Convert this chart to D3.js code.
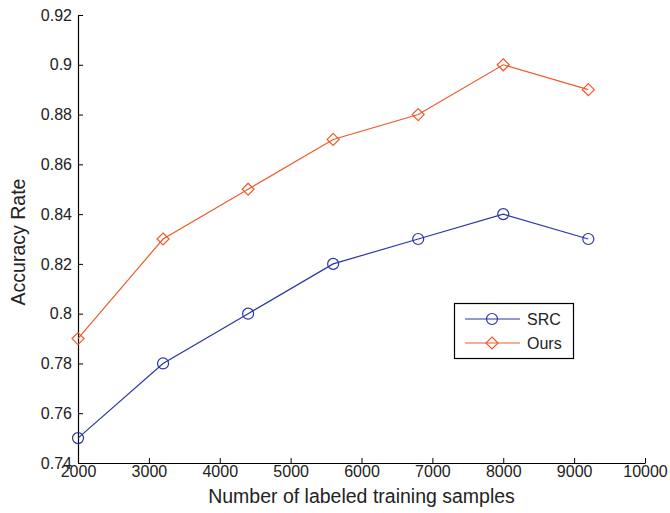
<!DOCTYPE html>
<html>
<head>
<meta charset="utf-8">
<script src="https://cdn.jsdelivr.net/npm/d3@7"></script>
<style>
  html, body { margin: 0; padding: 0; background: #fff; }
  svg { display: block; font-family: "Liberation Sans", Arial, sans-serif; }
</style>
</head>
<body>
<svg id="chart" width="670" height="513"></svg>
<script>
const samples = [2000, 3200, 4400, 5600, 6800, 8000, 9200];
const src = [0.75, 0.78, 0.80, 0.82, 0.83, 0.84, 0.83];
const ours = [0.79, 0.83, 0.85, 0.87, 0.88, 0.90, 0.89];
const xTicks = [2000, 3000, 4000, 5000, 6000, 7000, 8000, 9000, 10000];
const yTicks = [0.74, 0.76, 0.78, 0.8, 0.82, 0.84, 0.86, 0.88, 0.9, 0.92];

const svg = d3.select("#chart");
const m = { left: 78, right: 645, top: 15, bottom: 463 };
const x = d3.scaleLinear().domain([2000, 10000]).range([m.left, m.right]);
const y = d3.scaleLinear().domain([0.74, 0.92]).range([m.bottom, m.top]);
const txt = "#222";

const xa = svg.append("g").attr("transform", `translate(0,${m.bottom})`)
  .call(d3.axisBottom(x).tickValues(xTicks).tickFormat(d3.format("d")).tickSizeInner(-5).tickSizeOuter(0).tickPadding(3));
const ya = svg.append("g").attr("transform", `translate(${m.left},0)`)
  .call(d3.axisLeft(y).tickValues(yTicks).tickFormat(d => String(+d.toFixed(2))).tickSizeInner(-5).tickSizeOuter(0).tickPadding(6));
[xa, ya].forEach(a => {
  a.select(".domain").attr("stroke", "#000").attr("stroke-width", 1.2);
  a.selectAll(".tick line").attr("stroke", "#000");
  a.selectAll(".tick text").attr("fill", txt).style("font-size", "16px");
});

svg.append("text").attr("x", (m.left + m.right) / 2).attr("y", 503)
  .attr("text-anchor", "middle").attr("fill", txt).style("font-size", "19.5px")
  .text("Number of labeled training samples");
svg.append("text").attr("transform", `translate(25,${242}) rotate(-90)`)
  .attr("text-anchor", "middle").attr("fill", txt).style("font-size", "19.5px")
  .text("Accuracy Rate");

const series = [
  { name: "SRC", vals: src, color: "#2a35a5", mark: "circle" },
  { name: "Ours", vals: ours, color: "#f05a2a", mark: "diamond" }
];
const line = d3.line().x(d => x(d[0])).y(d => y(d[1]));

function marker(g, type, cx, cy, color) {
  if (type === "circle") {
    g.append("circle").attr("cx", cx).attr("cy", cy).attr("r", 5.5)
      .attr("fill", "none").attr("stroke", color).attr("stroke-width", 1.2);
  } else {
    const s = 6;
    g.append("path").attr("d", `M${cx},${cy - s}L${cx + s},${cy}L${cx},${cy + s}L${cx - s},${cy}Z`)
      .attr("fill", "none").attr("stroke", color).attr("stroke-width", 1.2);
  }
}

series.forEach(s => {
  const pts = samples.map((v, i) => [v, s.vals[i]]);
  svg.append("path").attr("d", line(pts)).attr("fill", "none")
    .attr("stroke", s.color).attr("stroke-width", 1.2);
  pts.forEach(p => marker(svg, s.mark, x(p[0]), y(p[1]), s.color));
});

// legend
const lg = svg.append("g");
lg.append("rect").attr("x", 454.5).attr("y", 303.5).attr("width", 119).attr("height", 55)
  .attr("fill", "#fff").attr("stroke", "#000").attr("stroke-width", 1.2);
series.forEach((s, i) => {
  const cy = 319 + i * 24;
  lg.append("line").attr("x1", 465).attr("x2", 520).attr("y1", cy).attr("y2", cy)
    .attr("stroke", s.color).attr("stroke-width", 1.2);
  marker(lg, s.mark, 492, cy, s.color);
  lg.append("text").attr("x", 527).attr("y", cy + 6).attr("fill", txt)
    .style("font-size", "16px").text(s.name);
});
</script>
</body>
</html>
